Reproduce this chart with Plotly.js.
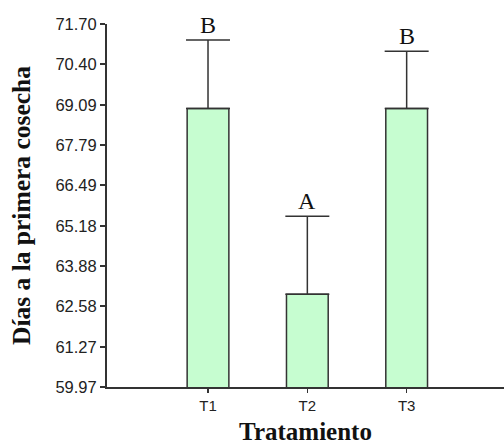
<!DOCTYPE html>
<html>
<head>
<meta charset="utf-8">
<script src="https://cdn.plot.ly/plotly-3.0.1.min.js"></script>
<style>html,body{margin:0;padding:0;background:#fff;}#chart{width:504px;height:445px;}</style>
</head>
<body>
<div id="chart"></div>
<script>
const categories = ["T1", "T2", "T3"];
const means = [68.97, 62.97, 68.97];
const errorsUp = [2.21, 2.52, 1.85];
const letters = ["B", "A", "B"];
const tickVals = [59.97, 61.27, 62.58, 63.88, 65.18, 66.49, 67.79, 69.09, 70.40, 71.70];
const tickLabels = ["59.97", "61.27", "62.58", "63.88", "65.18", "66.49", "67.79", "69.09", "70.40", "71.70"];

const xIdx = categories.map((c, i) => i);

const trace = {
  type: "bar",
  x: xIdx,
  y: means,
  width: 0.42,
  marker: { color: "#c6fdd0", line: { color: "#333333", width: 1.5 } },
  error_y: {
    type: "data", symmetric: false, array: errorsUp,
    arrayminus: means.map(() => 0),
    color: "#333333", thickness: 1.5, width: 22
  },
  hoverinfo: "none"
};

const annotations = categories.map((c, i) => ({
  x: i, y: means[i] + errorsUp[i], xref: "x", yref: "y",
  text: letters[i], showarrow: false, yanchor: "bottom", yshift: 0,
  font: { family: "Liberation Serif, Times New Roman, serif", size: 24, color: "#111" }
}));

const layout = {
  width: 504, height: 445,
  margin: { l: 107, r: 0, t: 24, b: 58, pad: 0 },
  paper_bgcolor: "#fff", plot_bgcolor: "#fff",
  showlegend: false,
  xaxis: {
    range: [-1.017, 2.98],
    tickvals: xIdx, ticktext: categories,
    showline: true, linecolor: "#333", linewidth: 2,
    ticks: "outside", ticklen: 4, tickcolor: "#333", tickwidth: 1.5,
    showgrid: false, zeroline: false,
    tickfont: { family: "Liberation Sans, Arial, sans-serif", size: 15, color: "#222" },
    title: { text: "Tratamiento", standoff: 18,
      font: { family: "Liberation Serif, Times New Roman, serif", size: 25, color: "#111", weight: "bold" } }
  },
  yaxis: {
    range: [59.97, 71.70],
    tickvals: tickVals, ticktext: tickLabels,
    showline: true, linecolor: "#333", linewidth: 2,
    ticks: "outside", ticklen: 5, tickcolor: "#333", tickwidth: 1.5,
    showgrid: false, zeroline: false,
    tickfont: { family: "Liberation Sans, Arial, sans-serif", size: 16.5, color: "#222" },
    title: { text: "Días a la primera cosecha", standoff: 17,
      font: { family: "Liberation Serif, Times New Roman, serif", size: 25.5, color: "#111", weight: "bold" } }
  },
  annotations: annotations
};

Plotly.newPlot("chart", [trace], layout, { staticPlot: true, displayModeBar: false });
</script>
</body>
</html>
